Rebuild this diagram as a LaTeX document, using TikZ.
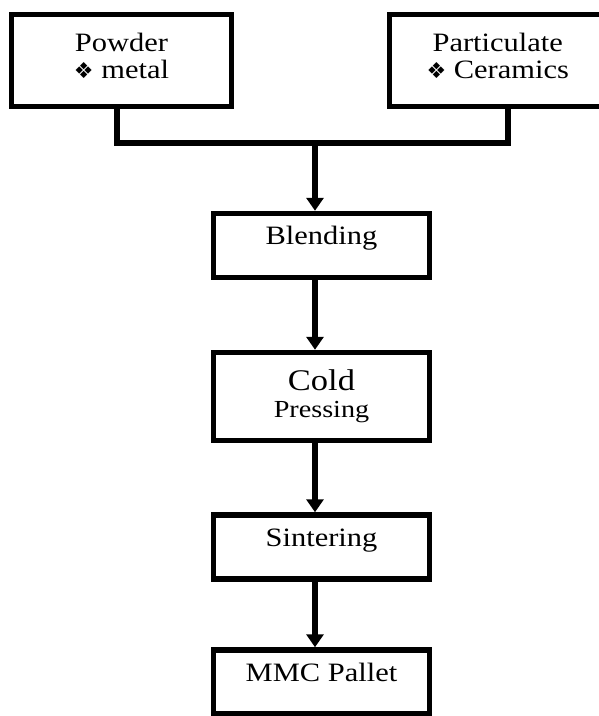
\documentclass[tikz,border=0pt]{standalone}
\usepackage{fontspec}
\setmainfont{Liberation Serif}[FakeStretch=1.15]
\newfontfamily\symfont{DejaVu Sans}
\usetikzlibrary{arrows.meta,positioning}

\newcommand{\bul}{{\symfont\fontsize{22}{22}\selectfont ❖}}

\begin{document}
\begin{tikzpicture}[x=1pt,y=-1pt,
  box/.style={draw,rectangle,line width=5.5pt,inner sep=0pt,font=\fontsize{26.5}{27}\selectfont},
  onebox/.style={box,minimum width=216pt,text height=31pt,text depth=33pt},
  topbox/.style={box,minimum height=92pt,align=center,text depth=10pt},
  line/.style={line width=5.5pt},
  arr/.style={line width=5.5pt,-{Triangle[length=13pt,width=17pt]}}]
\useasboundingbox (0,0) rectangle (599,716);

\node[topbox,minimum width=220pt] (powder) at (121.5,60.5) {Powder\\\bul\ metal};
\node[topbox,minimum width=216.5pt] (part) at (497.75,60.5) {Particulate\\\bul\ Ceramics};
\node[onebox] (blend) at (321.5,245.5) {Blending};
\node[box,minimum width=216pt,minimum height=88pt,align=center] (cold) at (321.5,396.5) {\fontsize{30}{30}\selectfont Cold\\\fontsize{24.5}{30}\selectfont Pressing};
\node[onebox] (sinter) at (321.5,547) {Sintering};
\node[onebox] (mmc) at (321.5,682) {MMC Pallet};

\coordinate (junc) at (315,143);
\draw[line] ([xshift=-4.5pt]powder.south) |- (junc) -| ([xshift=10.25pt]part.south);
\draw[arr] (junc) -- (junc |- blend.north);
\draw[arr] ([xshift=-6.5pt]blend.south) -- ([xshift=-6.5pt]cold.north);
\draw[arr] ([xshift=-6.5pt]cold.south) -- ([xshift=-6.5pt]sinter.north);
\draw[arr] ([xshift=-6.5pt]sinter.south) -- ([xshift=-6.5pt]mmc.north);
\end{tikzpicture}
\end{document}
